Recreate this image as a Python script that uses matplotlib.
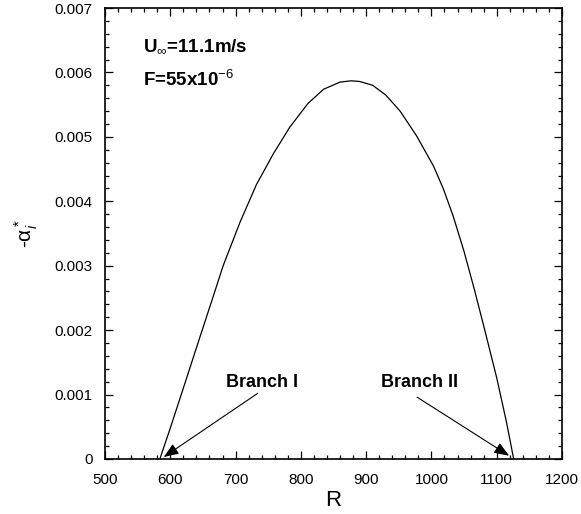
import matplotlib
matplotlib.use("Agg")
import matplotlib.pyplot as plt
from matplotlib.ticker import MultipleLocator

plt.rcParams['font.family'] = ['Liberation Sans', 'DejaVu Sans']
plt.rcParams['mathtext.fontset'] = 'custom'
plt.rcParams['mathtext.rm'] = 'Liberation Sans'
plt.rcParams['mathtext.it'] = 'Liberation Sans:italic'
plt.rcParams['mathtext.bf'] = 'Liberation Sans:bold'

# Neutral stability curve
R_vals = [584, 600, 620, 645, 665, 681, 707, 732, 758, 783, 811, 835, 860, 877,
          890, 910, 930, 952, 977, 1003, 1018, 1033, 1050, 1065, 1080, 1100,
          1115, 1126]
alpha_vals = [0.0, 0.00048, 0.00110, 0.00188, 0.00250, 0.00300, 0.00368, 0.00426,
              0.00474, 0.00515, 0.00552, 0.00574, 0.00585, 0.00587, 0.00586,
              0.00580, 0.00565, 0.00540, 0.00502, 0.00455, 0.00420, 0.00378,
              0.00322, 0.00266, 0.00207, 0.00126, 0.00057, 0.0]

x_ticks = [500, 600, 700, 800, 900, 1000, 1100, 1200]
y_ticks = [0, 0.001, 0.002, 0.003, 0.004, 0.005, 0.006, 0.007]
y_ticklabels = ['0', '0.001', '0.002', '0.003', '0.004', '0.005', '0.006', '0.007']

fig = plt.figure(figsize=(5.81, 5.14), dpi=100)
ax = fig.add_axes([105/581, 1-459/514, (562-105)/581, (459-8)/514])

ax.plot(R_vals, alpha_vals, color='black', lw=0.9)

ax.set_xlim(500, 1200)
ax.set_ylim(0, 0.007)
ax.set_xticks(x_ticks)
ax.set_yticks(y_ticks)
ax.set_yticklabels(y_ticklabels)
ax.xaxis.set_minor_locator(MultipleLocator(20))
ax.yaxis.set_minor_locator(MultipleLocator(0.0002))
ax.tick_params(which='both', direction='in', top=True, right=True, labelsize=11, width=0.9)
ax.tick_params(which='major', length=6)
ax.tick_params(which='minor', length=3)
ax.tick_params(axis='x', pad=10)
ax.tick_params(axis='y', pad=9)
for s in ax.spines.values():
    s.set_linewidth(1.2)

ax.set_xlabel('R', fontsize=16, labelpad=2)
ax.set_ylabel(r'-$\mathrm{\alpha}^*_i$', fontsize=15, labelpad=10)

ax.text(558, 0.0064, r'U$_{\infty}$=11.1m/s', fontsize=13.5, fontweight='bold', va='center', ha='left')
ax.text(558, 0.00589, r'F=55x10$^{-6}$', fontsize=13.5, fontweight='bold', va='center', ha='left')

ax.text(741, 0.00118, 'Branch I', fontsize=13, fontweight='bold', ha='center', va='center')
ax.text(982, 0.00118, 'Branch II', fontsize=13, fontweight='bold', ha='center', va='center')

arrowprops = dict(arrowstyle='-|>,head_length=0.9,head_width=0.35', color='black', lw=0.8, shrinkA=0, shrinkB=0)
ax.annotate('', xy=(590, 0.00003), xytext=(734, 0.00102), arrowprops=arrowprops)
ax.annotate('', xy=(1119, 0.00005), xytext=(978, 0.00096), arrowprops=arrowprops)

fig.savefig('out.png', dpi=100)
